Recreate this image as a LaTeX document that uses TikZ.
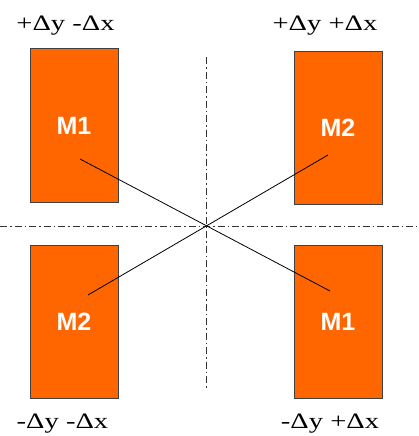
\documentclass[tikz,border=0pt]{standalone}
\usepackage{fontspec}
\setmainfont{Liberation Serif}
\newfontfamily\msans{Liberation Sans}
\definecolor{blkorange}{HTML}{FF6600}
\definecolor{blkedge}{HTML}{404040}
\tikzset{
  blk/.style={draw=blkedge, fill=blkorange, line width=1pt, minimum width=88pt, minimum height=153pt, inner sep=0pt, text=white, font=\msans\bfseries\fontsize{25}{25}\selectfont},
  lbl/.style={anchor=base, inner sep=0pt, font=\fontsize{22}{22}\selectfont},
  axis/.style={line width=0.8pt, black!80, dash pattern=on 7pt off 3pt on 1.5pt off 3pt},
  cross/.style={line width=0.8pt}
}
\newcommand{\wide}[1]{\scalebox{1.3}[1]{#1}}

\begin{document}
\begin{tikzpicture}[x=1pt,y=-1pt]
  \useasboundingbox (0,0) rectangle (418,436);
  % axes
  \coordinate (vtop) at (206,57); \coordinate (vbot) at (206,389);
  \coordinate (hl) at (0,226); \coordinate (hr) at (417,226);
  \draw[axis] (vtop) -- (vbot); \draw[axis] (hl) -- (hr);
  % blocks
  \node[blk] (ul) at (74,125.5) {M1}; \node[blk] (ur) at (338,128) {M2};
  \node[blk] (ll) at (74,321.5) {M2}; \node[blk] (lr) at (338,321.5) {M1};
  % crossing lines
  \coordinate (a1) at (80,159); \coordinate (a2) at (330,291);
  \coordinate (b1) at (328,155); \coordinate (b2) at (88,295);
  \draw[cross] (a1) -- (a2); \draw[cross] (b1) -- (b2);
  % labels
  \node[lbl] (tl) at (65.5,31) {\wide{+Δy -Δx}}; \node[lbl] (tr) at (325,31) {\wide{+Δy +Δx}};
  \node[lbl] (bl) at (62.5,428) {\wide{-Δy -Δx}}; \node[lbl] (br) at (330,428) {\wide{-Δy +Δx}};
\end{tikzpicture}
\end{document}
